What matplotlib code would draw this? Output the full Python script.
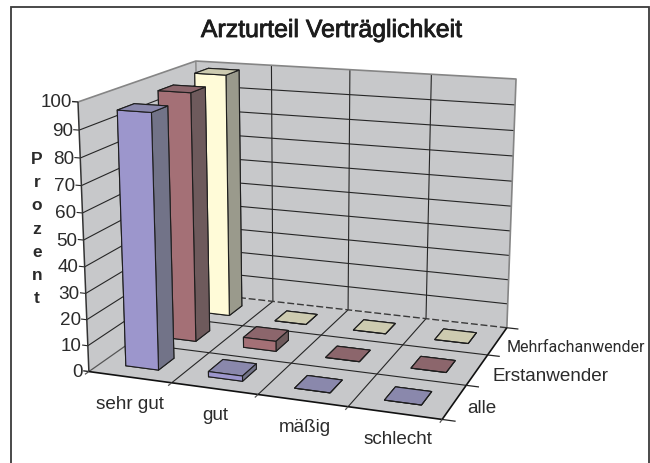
import matplotlib
import matplotlib.patheffects as pe
import matplotlib.pyplot as plt
from matplotlib.patches import Rectangle
from mpl_toolkits.mplot3d import proj3d
from mpl_toolkits.mplot3d.art3d import Poly3DCollection

matplotlib.use('Agg')

TITLE = 'Arzturteil Verträglichkeit'
YLABEL = 'Prozent'
categories = ['sehr gut', 'gut', 'mäßig', 'schlecht']
series = ['alle', 'Erstanwender', 'Mehrfachanwender']
alle = [96, 2, 0, 0]
erstanwender = [97.5, 4, 0, 0]
mehrfachanwender = [99, 0, 0, 0]
z_ticks = list(range(0, 101, 10))

# front, side, top colours per series
bar_colors = [
    ('#9C96CC', '#727388', '#8A88AC'),
    ('#A47076', '#6E5A5C', '#8C666C'),
    ('#FFFBD8', '#9A9A8C', '#CDCBB0'),
]
WALL = '#C7C8CA'
LINE = '#262626'
TEXT = '#2B2B2B'
W, H = 650, 464
SANS = ['Liberation Sans', 'DejaVu Sans']

fig = plt.figure(figsize=(W / 100, H / 100), dpi=100)
side = 505.6
ax = fig.add_axes([47.07 / W, -19.01 / H, side / W, side / H], projection='3d', computed_zorder=False)
ax.set_axis_off()
nx, ny = len(categories), len(series)
ax.set_xlim(0, nx)
ax.set_ylim(0, ny)
ax.set_zlim(0, 100)
ax.view_init(elev=14.8921, azim=-70.1079, roll=-0.0012)
ax.set_proj_type('persp', focal_length=0.5381)
ax.set_box_aspect((1.5752, 1.1883, 1.1818), zoom=1)

# walls and floor
walls = [
    [(0, 0, 0), (nx, 0, 0), (nx, ny, 0), (0, ny, 0)],
    [(0, ny, 0), (nx, ny, 0), (nx, ny, 100), (0, ny, 100)],
    [(0, 0, 0), (0, ny, 0), (0, ny, 100), (0, 0, 100)],
]
ax.add_collection3d(Poly3DCollection(walls, facecolors=WALL, edgecolors='none', zorder=1))


def line3d(xs, ys, zs, color=LINE, lw=0.8, ls='-', zorder=2):
    ax.plot(xs, ys, zs, color=color, lw=lw, ls=ls, zorder=zorder, solid_capstyle='butt')


# grid on the walls
for z in z_ticks[1:-1]:
    line3d([0, 0, nx], [0, ny, ny], [z, z, z])
    line3d([-0.07, 0], [0, 0], [z, z])
for x in range(1, nx):
    line3d([x, x], [ny, ny], [0, 100])
    line3d([x, x], [0, ny], [0, 0])
for y in range(1, ny):
    line3d([0, nx], [y, y], [0, 0])

# outer edges
line3d([0, 0, nx, nx], [0, ny, ny, ny], [100, 100, 100, 0], color='#858585', lw=1.2)
line3d([0, 0], [ny, ny], [0, 100], color='#858585', lw=1.0)
line3d([0, 0], [0, ny], [0, 0], color='#555555', lw=0.9)
line3d([0, nx], [ny, ny], [0, 0], color='#3A3A3A', lw=1.0, ls=(0, (5, 2)))
line3d([0, 0], [0, 0], [0, 100], color='#333333', lw=1.1)
line3d([-0.07, 0], [0, 0], [0, 0], lw=1.0)
line3d([-0.07, 0], [0, 0], [100, 100], lw=1.0)
line3d([0, nx, nx], [0, 0, ny], [0, 0, 0], color='#111111', lw=1.2)
for x in range(nx + 1):
    line3d([x, x], [0, -0.09], [0, 0], color='#555555', lw=0.9)
for y in range(ny + 1):
    line3d([nx, nx + 0.14], [y, y], [0, 0], lw=0.9)

# bars, drawn from back to front
bar_x = 0.3
bar_y = 0.3
bar_size = 0.4
order = 10
for j in reversed(range(ny)):
    vals = [alle, erstanwender, mehrfachanwender][j]
    front, right, top = bar_colors[j]
    for i in range(nx):
        order += 1
        # faces: -Z, +Z, -Y, +Y, -X, +X
        ax.bar3d(i + bar_x, j + bar_y, 0, bar_size, bar_size, vals[i], shade=False,
                 color=[top, top, front, front, right, right],
                 edgecolor='#1E1E1E', linewidth=0.8, zorder=order)


def label(x, y, z, text, dx, dy, ha='center', size=13.6, family=SANS):
    px, py, _ = proj3d.proj_transform(x, y, z, ax.get_proj())
    ax.annotate(text, (px, py), xytext=(dx, dy), textcoords='offset pixels', ha=ha, va='center',
                color=TEXT, zorder=100, annotation_clip=False, family=family, fontsize=size)


for z in z_ticks:
    label(0, 0, z, str(z), -6, 0, ha='right')
for i, name in enumerate(categories):
    label(i + 0.5, 0, 0, name, i, -26)
# the longest label is squeezed in the original, Roboto runs narrower
series_dx = [13, 15, 9]
series_size = [13.6, 13.6, 11.5]
series_font = [SANS, SANS, ['Roboto'] + SANS]
for j, name in enumerate(series):
    label(nx, j + 0.5, 0, name, series_dx[j], -6, ha='left', size=series_size[j], family=series_font[j])

# medium weight title: regular face with a thin stroke
title = fig.text(331 / W, 1 - 31 / H, TITLE, ha='center', va='center', family=SANS, fontsize=17.9,
                 color='#1C1C1C')
title.set_path_effects([pe.withStroke(linewidth=0.6, foreground='#1C1C1C')])
fig.text(37 / W, 1 - 229 / H, '\n'.join(YLABEL), ha='center', va='center', family=SANS, fontsize=12.5,
         fontweight='bold', color=TEXT, linespacing=1.67)

frame = Rectangle((10.5 / W, -6 / H), 638 / W, (456 + 6) / H, transform=fig.transFigure, fill=False,
                  edgecolor='#3A3A3A', linewidth=1.3)
fig.add_artist(frame)

fig.savefig('out.png', dpi=100)
